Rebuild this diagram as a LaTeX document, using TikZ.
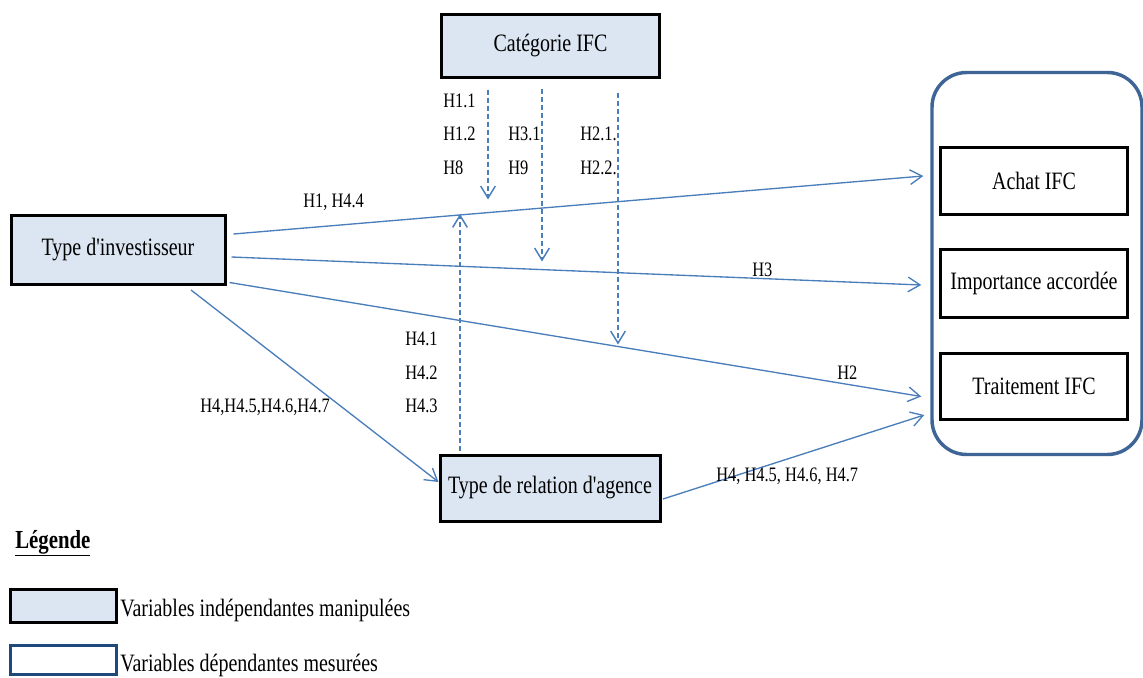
\documentclass[tikz,border=0pt]{standalone}
\usepackage{fontspec}
\setmainfont{Liberation Serif}[FakeStretch=0.8,Ligatures=TeXOff]
\usetikzlibrary{arrows.meta,calc}
\definecolor{boxfill}{HTML}{DCE6F2}
\definecolor{arrowblue}{HTML}{4A7EBB}
\definecolor{contblue}{HTML}{3E6595}
\definecolor{legblue}{HTML}{1F497D}
\begin{document}
\begin{tikzpicture}[x=0.75pt,y=-0.75pt,
  indep/.style={draw=black,line width=2.25pt,fill=boxfill,inner sep=0pt,font=\fontsize{18.75}{22}\selectfont},
  depbox/.style={draw=black,line width=2.25pt,fill=white,minimum width=140.25pt,inner sep=0pt,font=\fontsize{18.75}{22}\selectfont},
  conn/.style={draw=arrowblue,line width=1pt,-{Straight Barb[length=9pt,width=11pt]}},
  dconn/.style={conn,line width=1.1pt,dash pattern=on 3.75pt off 2.25pt},
  lbl/.style={anchor=base west,inner sep=0pt,font=\fontsize{15.4}{18}\selectfont},
  legtxt/.style={anchor=base west,inner sep=0pt,font=\fontsize{18.75}{22}\selectfont}]
\useasboundingbox (0,0) rectangle (1143,678);

% container of dependent variables
\node[draw=contblue,line width=2.6pt,rounded corners=26pt,minimum width=157.5pt,minimum height=286.5pt,inner sep=0pt] (dep) at (1037,263.5) {};

% independent variables
\node[indep,minimum width=163.5pt,minimum height=47.25pt] (cat) at (550.5,46) {Catégorie IFC};
\node[indep,minimum width=160.5pt,minimum height=51.75pt] (inv) at (118,249.5) {Type d'investisseur};
\node[indep,minimum width=165pt,minimum height=49.5pt] (ag) at (550,488) {Type de relation d'agence};

% dependent variables
\node[depbox,minimum height=50.25pt] (achat) at (1034,181) {Achat IFC};
\node[depbox,minimum height=51pt] (imp) at (1034,283.5) {Importance accordée};
\node[depbox,minimum height=49.5pt] (trait) at (1034,386.5) {Traitement IFC};

% solid connectors
\draw[conn] ($(inv.east)+(7,-15.5)$) -- ($(dep.west)+(-7,-87.5)$);
\draw[conn] ($(inv.east)+(5,7.5)$) -- ($(dep.west)+(-9,21.5)$);
\draw[conn] ($(inv.east)+(3,33)$) -- ($(dep.west)+(-9,133)$);
\draw[conn] ($(inv.south)+(73,4.5)$) -- ($(ag.west)+(0,-6)$);
\draw[conn] ($(ag.east)+(1.5,11)$) -- ($(dep.west)+(-6,151.5)$);

% dashed connectors
\coordinate (d1e) at ($(cat.south)+(-62.5,120.5)$);
\coordinate (d2e) at ($(cat.south)+(-8.5,182.5)$);
\coordinate (d3e) at ($(cat.south)+(67.5,265.5)$);
\coordinate (d4e) at ($(ag.north)+(-90,-239.5)$);
\draw[dconn] ($(cat.south)+(-62.5,10.5)$) -- (d1e);
\draw[dconn] ($(cat.south)+(-8.5,10)$) -- (d2e);
\draw[dconn] ($(cat.south)+(67.5,13.5)$) -- (d3e);
\draw[dconn] ($(ag.north)+(-90,-3)$) -- (d4e);

% labels
\node[lbl] (l1) at (303,207) {H1, H4.4};
\node[lbl] (l2) at (443,107) {H1.1};
\node[lbl] (l3) at (443,140) {H1.2};
\node[lbl] (l4) at (443,174) {H8};
\node[lbl] (l5) at (508,140) {H3.1};
\node[lbl] (l6) at (508,174) {H9};
\node[lbl] (l7) at (580,140) {H2.1.};
\node[lbl] (l8) at (580,174) {H2.2.};
\node[lbl] (l9) at (752,276) {H3};
\node[lbl] (l10) at (405,345.5) {H4.1};
\node[lbl] (l11) at (405,379) {H4.2};
\node[lbl] (l12) at (405,412.5) {H4.3};
\node[lbl] (l13) at (200,412.5) {H4,H4.5,H4.6,H4.7};
\node[lbl] (l14) at (837,379) {H2};
\node[lbl] (l15) at (716,481) {H4, H4.5, H4.6, H4.7};

% legend
\node[anchor=base west,inner sep=0pt,font=\fontsize{19.5}{22}\selectfont\bfseries] (leg) at (15,548) {\underline{Légende}};
\node[draw=black,line width=2.25pt,fill=boxfill,minimum width=79.5pt,minimum height=24.75pt,inner sep=0pt] (lb1) at (63.5,606) {};
\node[legtxt] (lt1) at (120,616.5) {Variables indépendantes manipulées};
\node[draw=legblue,line width=2.1pt,fill=white,minimum width=79.9pt,minimum height=22.1pt,inner sep=0pt] (lb2) at (63.5,660) {};
\node[legtxt] (lt2) at (120,671.5) {Variables dépendantes mesurées};
\end{tikzpicture}
\end{document}
